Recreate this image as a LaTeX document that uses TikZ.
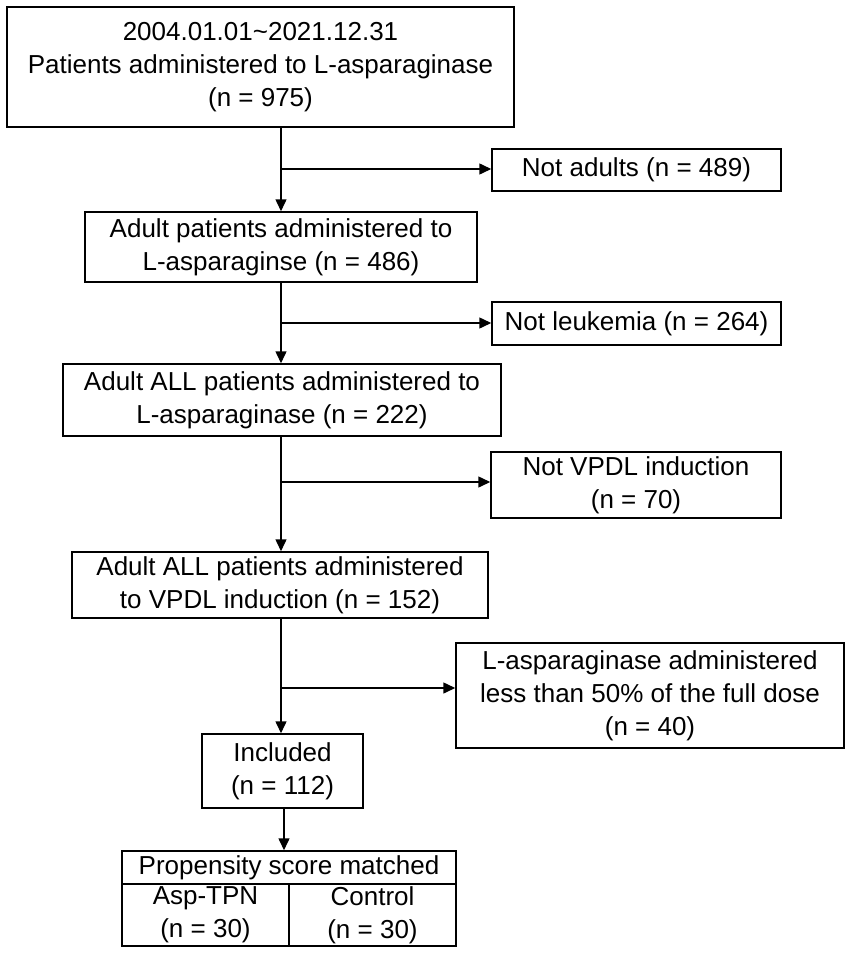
\documentclass[tikz,border=0pt]{standalone}
\usepackage{fontspec}
\setmainfont{Liberation Sans}
\usetikzlibrary{arrows.meta}
\begin{document}
\begin{tikzpicture}[x=1pt,y=-1pt,
  box/.style={draw=black, line width=1.5pt, align=center, inner sep=0pt,
    font=\fontsize{26}{33}\selectfont},
  arr/.style={line width=1.5pt, -{Triangle[length=12pt,width=11pt]}},
  ln/.style={line width=1.5pt}]
\useasboundingbox[fill=white] (0,0) rectangle (851,953);
\node[box, minimum width=507, minimum height=120] (b1) at (260.5,67)
  {2004.01.01\textasciitilde 2021.12.31\\Patients administered to L-asparaginase\\(n = 975)};
\node[box, minimum width=392, minimum height=70] (b2) at (281,247)
  {Adult patients administered to\\L-asparaginse (n = 486)};
\node[box, minimum width=289, minimum height=42] (na) at (636.5,170)
  {Not adults (n = 489)};
\node[box, minimum width=289, minimum height=43] (nl) at (636.5,323.5)
  {Not leukemia (n = 264)};
\node[box, minimum width=438, minimum height=72] (b3) at (282,400)
  {Adult ALL patients administered to\\L-asparaginase (n = 222)};
\node[box, minimum width=290, minimum height=66] (nv) at (636,485)
  {Not VPDL induction\\(n = 70)};
\node[box, minimum width=416, minimum height=66] (b4) at (280,585)
  {Adult ALL patients administered\\to VPDL induction (n = 152)};
\node[box, minimum width=388, minimum height=105] (la) at (650,695.5)
  {L-asparaginase administered\\less than 50\% of the full dose\\(n = 40)};
\node[box, minimum width=161, minimum height=74] (inc) at (282.5,771)
  {Included\\(n = 112)};
\node[box, minimum width=334, minimum height=33] (psm) at (289,867.5)
  {Propensity score matched};
\node[box, minimum width=167, minimum height=62] (asp) at (205.5,915)
  {Asp-TPN\\(n = 30)};
\node[box, minimum width=167, minimum height=62] (ctl) at (372.5,915)
  {Control\\(n = 30)};
\coordinate (s) at (281,0);
\coordinate (j1) at (281,169);
\coordinate (j2) at (281,323);
\coordinate (j3) at (281,482);
\coordinate (j4) at (281,688);
\coordinate (s2) at (284,0);
\draw[arr] (b1.south -| s) -- (b2.north -| s);
\draw[arr] (j1) -- (na.west |- j1);
\draw[arr] (b2.south -| s) -- (b3.north -| s);
\draw[arr] (j2) -- (nl.west |- j2);
\draw[arr] (b3.south -| s) -- (b4.north -| s);
\draw[arr] (j3) -- (nv.west |- j3);
\draw[arr] (b4.south -| s) -- (inc.north -| s);
\draw[arr] (j4) -- (la.west |- j4);
\draw[arr] (inc.south -| s2) -- (psm.north -| s2);
\end{tikzpicture}
\end{document}
